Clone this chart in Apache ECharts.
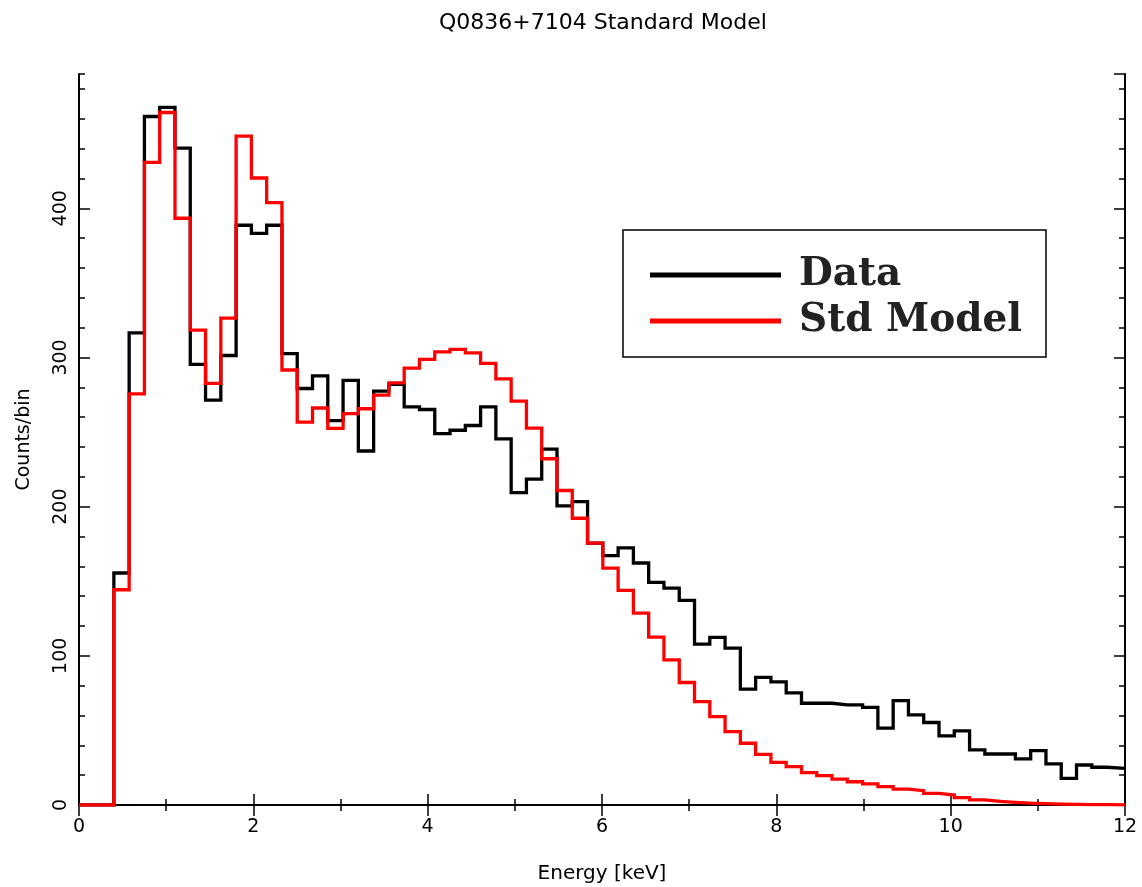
<!DOCTYPE html>
<html>
<head>
<meta charset="utf-8">
<script src="https://cdn.jsdelivr.net/npm/echarts@6.0.0/dist/echarts.min.js"></script>
<style>
html,body{margin:0;padding:0;background:#fff;}
#chart{width:1142px;height:887px;}
</style>
</head>
<body>
<div id="chart"></div>
<script>
// Histogram binning (keV): first bin edge and bin width
const BIN_START = 0.4;
const BIN_WIDTH = 0.1753;
const X_MAX = 12;

// Counts per bin, observed data
const dataCounts = [
  155.5, 316.5, 461.5, 467.6, 440.3, 295.3, 271.4, 301.3, 388.6, 383.2,
  388.6, 302.6, 279.2, 287.6, 257.7, 284.6, 237.3, 277.4, 281.9, 266.9,
  265.1, 249.0, 251.2, 254.4, 266.9, 245.4, 209.4, 218.4, 238.5, 200.5,
  203.4, 175.6, 167.1, 172.3, 162.2, 149.2, 145.4, 137.1, 107.8, 112.3,
  105.2, 77.7, 85.5, 82.5, 75.2, 68.2, 68.2, 67.1, 67.1, 65.5,
  51.5, 70.0, 60.4, 55.3, 46.3, 49.7, 36.9, 34.2, 34.2, 30.9,
  36.4, 27.5, 17.9, 26.8, 25.3, 24.6
];

// Counts per bin, standard model
const modelCounts = [
  144.3, 275.6, 430.7, 464.2, 393.3, 318.3, 282.6, 326.4, 448.3, 420.3,
  403.8, 291.6, 256.7, 266.1, 252.4, 262.3, 265.6, 274.7, 283.0, 292.8,
  298.7, 303.8, 305.4, 303.1, 296.0, 285.7, 270.7, 252.6, 232.1, 210.8,
  192.2, 175.6, 158.8, 143.8, 128.6, 112.5, 97.3, 82.1, 69.3, 59.3,
  49.2, 41.4, 34.0, 28.6, 25.7, 21.7, 19.7, 17.4, 15.6, 14.1,
  12.3, 10.7, 9.6, 7.8, 6.7, 4.9, 3.4, 2.5, 1.8, 1.2,
  0.9, 0.6, 0.4, 0.3, 0.2, 0.1
];

const seriesNames = ['Data', 'Std Model'];
const titleText = 'Q0836+7104 Standard Model';
const xAxisName = 'Energy [keV]';
const yAxisName = 'Counts/bin';

function stepPoints(values) {
  const pts = [[0, 0]];
  values.forEach((v, k) => pts.push([+(BIN_START + k * BIN_WIDTH).toFixed(4), v]));
  pts.push([X_MAX, values[values.length - 1]]);
  return pts;
}

const chart = echarts.init(document.getElementById('chart'), null, {renderer: 'canvas'});
const FONT = 'DejaVu Sans';
const axisLine = {show: true, lineStyle: {color: '#000', width: 2}};
const majorTick = {show: true, inside: true, length: 11, lineStyle: {color: '#000', width: 1.5}};
const minorTickStyle = {show: true, inside: true, length: 6, lineStyle: {color: '#000', width: 1.5}};

const option = {
  backgroundColor: '#fff',
  animation: false,
  title: {
    text: titleText,
    left: 439,
    top: 12,
    padding: 0,
    textStyle: {fontFamily: FONT, fontSize: 22, fontWeight: 'normal', color: '#000'}
  },
  grid: {left: 79, top: 74, right: 17, bottom: 82, outerBoundsMode: 'none'},
  legend: {
    orient: 'vertical',
    left: 645,
    top: 247,
    itemWidth: 131,
    itemHeight: 5,
    itemGap: 0,
    icon: 'rect',
    data: seriesNames,
    textStyle: {
      fontFamily: 'DejaVu Serif', fontWeight: 'bold', fontSize: 39, color: '#222',
      lineHeight: 46, padding: [0, 0, 0, 13]
    }
  },
  graphic: [{
    type: 'rect',
    shape: {x: 623, y: 230, width: 423, height: 127},
    style: {fill: null, stroke: '#000', lineWidth: 1.5},
    z: 100
  }],
  xAxis: [{
    type: 'value', position: 'bottom', min: 0, max: X_MAX, interval: 2,
    axisLine: axisLine, axisTick: majorTick,
    minorTick: Object.assign({splitNumber: 2}, minorTickStyle),
    splitLine: {show: false}, minorSplitLine: {show: false},
    axisLabel: {margin: 13, fontFamily: FONT, fontSize: 19, color: '#000'},
    name: xAxisName, nameLocation: 'middle', nameGap: 59,
    nameTextStyle: {fontFamily: FONT, fontSize: 20, color: '#000'}
  }, {
    type: 'value', position: 'top', min: 0, max: X_MAX, interval: 2,
    axisLine: axisLine, axisTick: majorTick,
    minorTick: Object.assign({splitNumber: 2}, minorTickStyle),
    splitLine: {show: false}, axisLabel: {show: false}
  }],
  yAxis: [{
    type: 'value', position: 'left', min: 0, max: 490, interval: 100,
    axisLine: axisLine, axisTick: majorTick, splitLine: {show: false},
    axisLabel: {rotate: 90, margin: 8, showMaxLabel: false, fontFamily: FONT, fontSize: 19, color: '#000'},
    name: yAxisName, nameLocation: 'middle', nameGap: 45, nameRotate: 90,
    nameTextStyle: {fontFamily: FONT, fontSize: 19, color: '#000'}
  }, {
    type: 'value', position: 'left', min: 0, max: 490, interval: 20,
    axisLine: {show: false}, axisTick: minorTickStyle, splitLine: {show: false},
    axisLabel: {show: false}
  }, {
    type: 'value', position: 'right', min: 0, max: 490, interval: 100,
    axisLine: axisLine, axisTick: majorTick, splitLine: {show: false},
    axisLabel: {show: false}
  }, {
    type: 'value', position: 'right', min: 0, max: 490, interval: 20,
    axisLine: {show: false}, axisTick: minorTickStyle, splitLine: {show: false},
    axisLabel: {show: false}
  }],
  series: [{
    name: seriesNames[0], type: 'line', step: 'end', xAxisIndex: 0, yAxisIndex: 0,
    data: stepPoints(dataCounts), showSymbol: false, symbol: 'none',
    lineStyle: {color: '#000', width: 3.3, join: 'miter'}, itemStyle: {color: '#000'}, z: 3
  }, {
    name: seriesNames[1], type: 'line', step: 'end', xAxisIndex: 0, yAxisIndex: 0,
    data: stepPoints(modelCounts), showSymbol: false, symbol: 'none',
    lineStyle: {color: '#ff0000', width: 3.3, join: 'miter'}, itemStyle: {color: '#ff0000'}, z: 4
  }]
};
chart.setOption(option);
</script>
</body>
</html>
